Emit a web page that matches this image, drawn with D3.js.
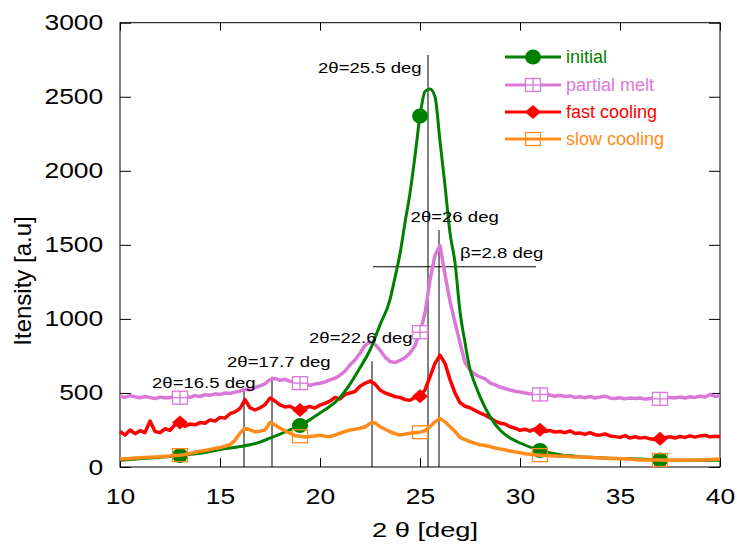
<!DOCTYPE html>
<html>
<head>
<meta charset="utf-8">
<script src="https://cdn.jsdelivr.net/npm/d3@7"></script>
<style>
  body { margin: 0; background: #fff; }
  text { font-family: "Liberation Sans", Arial, sans-serif; }
</style>
</head>
<body>
<div id="graph"></div>
<script>
// scan grid (deg) shared by the noisy scans
var twoTheta = [10,10.25,10.5,10.75,11,11.25,11.5,11.75,12,12.25,12.5,12.75,13,13.25,13.5,13.75,
  14,14.25,14.5,14.75,15,15.25,15.5,15.75,16,16.25,16.5,16.75,17,17.25,17.5,17.75,
  18,18.25,18.5,18.75,19,19.25,19.5,19.75,20,20.25,20.5,20.75,21,21.25,21.5,21.75,
  22,22.25,22.5,22.75,23,23.25,23.5,23.75,24,24.25,24.5,24.75,25,25.25,25.5,25.75,
  26,26.25,26.5,26.75,27,27.25,27.5,27.75,28,28.25,28.5,28.75,29,29.25,29.5,29.75,
  30,30.25,30.5,30.75,31,31.25,31.5,31.75,32,32.25,32.5,32.75,33,33.25,33.5,33.75,
  34,34.25,34.5,34.75,35,35.25,35.5,35.75,36,36.25,36.5,36.75,37,37.25,37.5,37.75,
  38,38.25,38.5,38.75,39,39.25,39.5,39.75,40];

var partialMelt = [478,470,482,474, 468,476,470,462, 472,466,470,474, 468,476,470,482,
  476,488,484,494, 490,500,496,506, 512,525,522,536, 548,562,590,598,
  585,592,578,572, 566,560,552,560, 566,574,588,600, 620,648,690,722,
  768,820,845,828, 790,742,712,705, 720,738,770,818, 910,1040,1262,1430,
  1495,1300,1120,975, 840,705,655,625, 608,595,568,555, 540,530,520,512,
  506,500,495,492, 490,496,486,478, 484,476,480,470, 474,468,476,466,
  472,478,466,462, 468,460,466,462, 466,458,462,468, 460,464,470,466,
  472,466,474,470, 478,472,490,476, 482];

var fastCooling = [240,215,250,225, 245,232,310,240, 232,258,248,285, 300,275,290,285,
  300,295,318,310, 335,330,360,372, 395,455,400,385, 400,420,466,445,
  420,405,410,392, 385,400,408,398, 418,430,445,470, 460,490,500,510,
  545,565,580,560, 520,500,488,475, 470,455,450,470, 478,520,610,700,
  755,700,590,500, 435,410,400,382, 365,350,332,310, 296,290,272,262,
  248,255,242,258, 252,240,246,236, 240,232,244,226, 230,220,232,218,
  215,224,210,205, 200,212,196,204, 195,200,190,186, 190,198,204,196,
  206,200,210,202, 210,214,204,208, 205];

var slowCooling = [55,56,58,60, 62,64,66,68, 70,72,74,78, 80,84,92,100,
  106,112,118,126, 132,140,150,180, 230,262,250,238, 242,250,300,285,
  262,245,228,212, 208,202,206,210, 214,208,206,215, 228,240,250,255,
  262,270,295,298, 272,255,238,225, 216,222,228,232, 235,245,272,305,
  328,305,272,240, 200,185,172,160, 150,145,138,128, 122,116,108,102,
  96,90,86,82, 80,78,76,74, 72,74,70,68, 70,66,64,62,
  60,60,58,58, 56,55,52,50, 48,48,47,47, 47,46,46,47,
  47,46,47,48, 48,49,50,52, 54];

// initial sample, smooth curve
var initialX = [10,11,12,13,14,15,16,16.5,17,17.5,18,18.5,19,19.5,20,20.5,21,21.5,22,22.5,23,23.5,
  23.75,24,24.25,24.5,24.75,25,25.25,25.5,25.75,26,26.25,26.5,26.75,27,27.25,27.5,27.75,28,
  28.5,29,29.5,30,31,32,33,34,35,36,37,38,39,40];
var initialY = [45,55,65,78,92,118,138,150,168,195,222,250,280,320,365,410,470,560,670,790,960,1130,
  1280,1440,1650,1850,2100,2370,2535,2552,2500,2200,1900,1580,1380,1050,840,660,560,475,
  340,250,196,162,112,82,70,62,57,54,48,46,46,46];

var markerX = [13, 19, 25, 31, 37];
var seriesNames = ["initial", "partial melt", "fast cooling", "slow cooling"];

var xTicks = [10, 15, 20, 25, 30, 35, 40];
var yTicks = [0, 500, 1000, 1500, 2000, 2500, 3000];

// annotation lines: x (deg), top (intensity)
var peakLineX = [16.2, 17.6, 22.6, 25.4, 25.95];
var peakLineTop = [520, 610, 715, 2782, 1600];
var betaLine = [22.65, 30.8, 1352];
var labelText = ["2\u03b8=16.5 deg", "2\u03b8=17.7 deg", "2\u03b8=22.6 deg", "2\u03b8=25.5 deg", "2\u03b8=26 deg", "\u03b2=2.8 deg"];
var labelX = [11.6, 15.35, 19.45, 19.9, 24.53, 27.0];
var labelY = [533, 675, 837, 2660, 1654, 1411];

var width = 737, height = 545;
var svg = d3.select('#graph').append('svg')
  .attr('width', width).attr('height', height);

var x = d3.scaleLinear().domain([10, 40]).range([120, 720]);
var y = d3.scaleLinear().domain([0, 3000]).range([467, 22.7]);

var colors = {"initial": "#008000", "partial melt": "#da78d8", "fast cooling": "#ff0000", "slow cooling": "#ff8c1a"};

function pairs(xs, ys) { return xs.map(function(v, i) { return [v, ys[i]]; }); }

var series = [
  {name: "partial melt", pts: pairs(twoTheta, partialMelt), curve: d3.curveLinear},
  {name: "fast cooling", pts: pairs(twoTheta, fastCooling), curve: d3.curveLinear},
  {name: "initial", pts: pairs(initialX, initialY), curve: d3.curveMonotoneX},
  {name: "slow cooling", pts: pairs(twoTheta, slowCooling), curve: d3.curveLinear}
];

// axes, ticks inward on all four sides
function styleTicks(g) {
  g.select('.domain').remove();
  g.selectAll('line').attr('stroke', '#000');
  g.selectAll('text').attr('font-size', 22).attr('fill', '#000')
    .attr('transform', 'scale(1.2,1)');
}
svg.append('g').attr('transform', 'translate(0,467)')
  .call(d3.axisBottom(x).tickValues(xTicks).tickFormat(d3.format('d')).tickSize(-9).tickPadding(21).tickSizeOuter(0))
  .call(styleTicks);
svg.append('g').attr('transform', 'translate(120,0)')
  .call(d3.axisLeft(y).tickValues(yTicks).tickFormat(d3.format('d')).tickSize(-11).tickPadding(14).tickSizeOuter(0))
  .call(styleTicks);
svg.append('g').attr('transform', 'translate(0,22.7)')
  .call(d3.axisTop(x).tickValues(xTicks).tickSize(-8).tickFormat('').tickSizeOuter(0))
  .call(styleTicks);
svg.append('g').attr('transform', 'translate(720,0)')
  .call(d3.axisRight(y).tickValues(yTicks).tickSize(-11).tickFormat('').tickSizeOuter(0))
  .call(styleTicks);

svg.append('rect')
  .attr('x', x(10)).attr('y', y(3000))
  .attr('width', x(40) - x(10)).attr('height', y(0) - y(3000))
  .attr('fill', 'none').attr('stroke', '#000').attr('stroke-width', 1);

// annotation lines
svg.selectAll('.peakline').data(peakLineX).enter().append('line')
  .attr('x1', function(d) { return x(d); }).attr('x2', function(d) { return x(d); })
  .attr('y1', y(0)).attr('y2', function(d, i) { return y(peakLineTop[i]); })
  .attr('stroke', '#000').attr('stroke-width', 1);
svg.append('line')
  .attr('x1', x(betaLine[0])).attr('x2', x(betaLine[1]))
  .attr('y1', y(betaLine[2])).attr('y2', y(betaLine[2]))
  .attr('stroke', '#000').attr('stroke-width', 1);

// markers
function drawMarker(g, name, cx, cy) {
  var c = colors[name];
  if (name === "initial") {
    g.append('ellipse').attr('cx', cx).attr('cy', cy).attr('rx', 8).attr('ry', 7.5).attr('fill', c);
  } else if (name === "partial melt") {
    g.append('rect').attr('x', cx - 7.5).attr('y', cy - 6.5).attr('width', 15).attr('height', 13)
      .attr('fill', '#fff').attr('stroke', c).attr('stroke-width', 1.3);
    g.append('line').attr('x1', cx).attr('x2', cx).attr('y1', cy - 6.5).attr('y2', cy + 6.5)
      .attr('stroke', c).attr('stroke-width', 1.3);
    g.append('line').attr('x1', cx - 7.5).attr('x2', cx + 7.5).attr('y1', cy).attr('y2', cy)
      .attr('stroke', c).attr('stroke-width', 1.3);
  } else if (name === "fast cooling") {
    g.append('path').attr('d', 'M' + (cx - 8) + ',' + cy + 'L' + cx + ',' + (cy - 7) + 'L' + (cx + 8) + ',' + cy + 'L' + cx + ',' + (cy + 7) + 'Z')
      .attr('fill', c);
  } else {
    g.append('rect').attr('x', cx - 7.5).attr('y', cy - 6.5).attr('width', 15).attr('height', 13)
      .attr('fill', 'none').attr('stroke', c).attr('stroke-width', 1.3);
  }
}

var line = d3.line().x(function(d) { return x(d[0]); }).y(function(d) { return y(d[1]); });

series.forEach(function(s) {
  var g = svg.append('g');
  g.append('path').datum(s.pts)
    .attr('d', line.curve(s.curve))
    .attr('fill', 'none').attr('stroke', colors[s.name])
    .attr('stroke-width', s.name === "initial" ? 3 : 3.5).attr('stroke-linejoin', 'round');
  s.pts.filter(function(p) { return markerX.indexOf(p[0]) >= 0; }).forEach(function(p) {
    drawMarker(g, s.name, x(p[0]), y(p[1]));
  });
});

// annotation labels
svg.selectAll('.lab').data(labelText).enter().append('text')
  .attr('transform', function(d, i) { return 'translate(' + x(labelX[i]) + ',' + y(labelY[i]) + ') scale(1.28,1)'; })
  .attr('font-size', 14.5).attr('fill', '#000')
  .text(function(d) { return d; });

// legend
var legendRowY = [57, 85, 112, 139];
seriesNames.forEach(function(name, i) {
  var g = svg.append('g');
  var ly = legendRowY[i];
  g.append('line').attr('x1', 505).attr('x2', 561).attr('y1', ly).attr('y2', ly)
    .attr('stroke', colors[name]).attr('stroke-width', 3);
  drawMarker(g, name, 533, ly);
  g.append('text').attr('x', 566).attr('y', ly).attr('dy', '0.35em')
    .attr('font-size', 18).attr('fill', colors[name]).text(name);
});

// axis titles
svg.append('text')
  .attr('transform', 'translate(425,537) scale(1.3,1)')
  .attr('text-anchor', 'middle').attr('font-size', 21).attr('fill', '#000')
  .text('2 \u03b8 [deg]');
svg.append('text')
  .attr('transform', 'translate(31,281) rotate(-90)')
  .attr('text-anchor', 'middle').attr('font-size', 24).attr('fill', '#000')
  .text('Itensity [a.u]');
</script>
</body>
</html>
